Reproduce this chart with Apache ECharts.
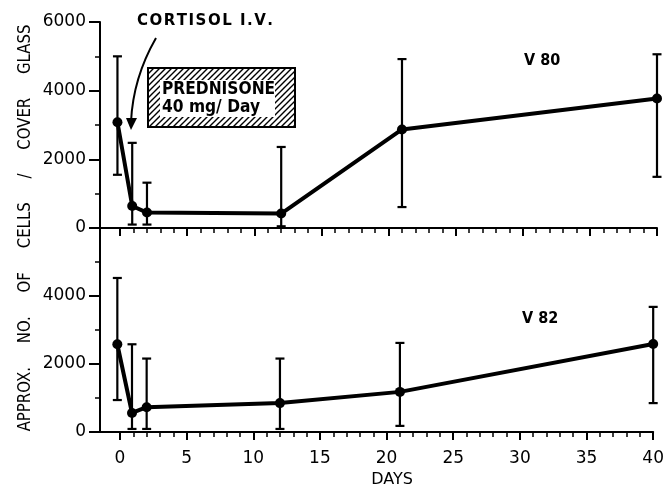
<!DOCTYPE html>
<html><head><meta charset="utf-8">
<script src="https://cdn.jsdelivr.net/npm/echarts@6/dist/echarts.min.js"></script>
<style>html,body{margin:0;padding:0;background:#fff}#c{width:667px;height:487px}</style>
</head><body><div id="c"></div>
<script>
const days = [-0.2, 0.9, 2, 12, 21, 40];
const v80Mean = [3080, 640, 450, 420, 2870, 3770];
const v80Low  = [1550, 100, 100, 50, 610, 1490];
const v80High = [5000, 2480, 1320, 2360, 4920, 5060];
const v82Mean = [2580, 560, 730, 850, 1180, 2590];
const v82Low  = [940, 90, 90, 90, 180, 850];
const v82High = [4530, 2580, 2160, 2160, 2620, 3680];
const xMajorTicks = [0, 5, 10, 15, 20, 25, 30, 35, 40];
const xMinorTicks = [1,2,3,4,6,7,8,9,11,12,13,14,16,17,18,19,21,22,23,24,26,27,28,29,31,32,33,34,36,37,38,39];
const yLabelTop = ['0','2000','4000','6000'];
const yLabelBottom = ['0','2000','4000'];

const FONT = 'DejaVu Sans';
const chart = echarts.init(document.getElementById('c'), null, {renderer:'canvas'});

const hatch = document.createElement('canvas');
hatch.width = 6; hatch.height = 6;
(function(){const g = hatch.getContext('2d'); g.fillStyle='#fff'; g.fillRect(0,0,6,6);
 g.strokeStyle='#000'; g.lineWidth=1.4; g.beginPath();
 g.moveTo(0,6); g.lineTo(6,0); g.moveTo(-1,1); g.lineTo(1,-1); g.moveTo(5,7); g.lineTo(7,5); g.stroke();})();

function errItem(params, api){
  const x = api.value(0), lo = api.value(1), hi = api.value(2);
  const a = api.coord([x, lo]), b = api.coord([x, hi]);
  const w = 4.5, st = {stroke:'#000', lineWidth:2.2};
  return {type:'group', children:[
    {type:'line', shape:{x1:a[0],y1:a[1],x2:b[0],y2:b[1]}, style:st},
    {type:'line', shape:{x1:a[0]-w,y1:a[1],x2:a[0]+w,y2:a[1]}, style:st},
    {type:'line', shape:{x1:b[0]-w,y1:b[1],x2:b[0]+w,y2:b[1]}, style:st}
  ]};
}

const axLine = {lineStyle:{color:'#000', width:2}};
function xMain(gi, showLabel){
  return {type:'value', gridIndex:gi, min:-1.5, max:40, splitLine:{show:false},
    axisLine:Object.assign({onZero:false}, axLine),
    axisTick:{show:true, customValues:xMajorTicks, length:8, lineStyle:{color:'#000', width:2}},
    axisLabel:{show:showLabel, customValues:xMajorTicks, color:'#000', fontFamily:FONT, fontSize:17, margin:18}};
}
function xMinor(gi){
  return {type:'value', gridIndex:gi, min:-1.5, max:40, position:'bottom', splitLine:{show:false},
    axisLine:{show:false, onZero:false},
    axisTick:{show:true, customValues:xMinorTicks, length:5, lineStyle:{color:'#000', width:1.5}},
    axisLabel:{show:false}};
}
function yAx(gi, labels){
  return {type:'value', gridIndex:gi, min:0, max:6000, interval:2000, splitLine:{show:false},
    axisLine:Object.assign({show:true, onZero:false}, axLine),
    axisTick:{show:true, length:11, lineStyle:{color:'#000', width:2}},
    minorTick:{show:true, splitNumber:2, length:5, lineStyle:{color:'#000', width:1.5}},
    axisLabel:{color:'#000', fontFamily:FONT, fontSize:17, margin:14,
      formatter: v => labels.indexOf(String(v)) >= 0 ? String(v) : ''}};
}

const lineStyle = {color:'#000', width:4};
const txt = (t, x, y, size, sx) => ({type:'text', x:x, y:y, scaleX:sx||1, z:100,
  style:{text:t, fill:'#000', font:'bold '+size+'px "'+FONT+'"', verticalAlign:'middle'}});
const H = '\u200A';

chart.setOption({
  animation:false,
  grid:[{left:100, right:10, top:22, height:206}, {left:100, right:10, top:228, height:204}],
  xAxis:[xMain(0,false), xMain(1,true), xMinor(0), xMinor(1)],
  yAxis:[yAx(0,yLabelTop), yAx(1,yLabelBottom)],
  series:[
    {type:'custom', xAxisIndex:0, yAxisIndex:0, renderItem:errItem,
      data: days.map((d,i)=>[d, v80Low[i], v80High[i]]), z:2},
    {type:'line', xAxisIndex:0, yAxisIndex:0, data: days.map((d,i)=>[d, v80Mean[i]]),
      symbol:'circle', symbolSize:10, itemStyle:{color:'#000'}, lineStyle:lineStyle, z:3},
    {type:'custom', xAxisIndex:1, yAxisIndex:1, renderItem:errItem,
      data: days.map((d,i)=>[d, v82Low[i], v82High[i]]), z:2},
    {type:'line', xAxisIndex:1, yAxisIndex:1, data: days.map((d,i)=>[d, v82Mean[i]]),
      symbol:'circle', symbolSize:10, itemStyle:{color:'#000'}, lineStyle:lineStyle, z:3}
  ],
  graphic:[
    {type:'text', x:25, y:228, rotation:Math.PI/2, scaleX:0.83, z:100,
      style:{text:'APPROX.     NO.     OF     CELLS     /     COVER     GLASS', fill:'#000',
        font:'18px "'+FONT+'"', align:'center', verticalAlign:'middle'}},
    {type:'text', x:392, y:480, z:100,
      style:{text:'DAYS', fill:'#000', font:'16px "'+FONT+'"', align:'center', verticalAlign:'middle'}},
    txt(['C','O','R','T','I','S','O','L',' ','I','.','V','.'].join(H), 137, 21, 15),
    {type:'rect', shape:{x:148, y:68, width:147, height:59},
      style:{fill:{image:hatch, repeat:'repeat'}, stroke:'#000', lineWidth:2}, z:90},
    {type:'rect', shape:{x:160, y:80, width:115, height:37}, style:{fill:'#fff'}, z:91},
    txt('PREDNISONE', 162, 90, 17, 0.91),
    txt('40 mg/ Day', 162, 108, 17, 0.91),
    {type:'bezierCurve', shape:{x1:156, y1:38, x2:131, y2:122, cpx1:133, cpy1:78},
      style:{stroke:'#000', lineWidth:2, fill:null}, z:100},
    {type:'polygon', shape:{points:[[126,118],[137,118],[131,130]]}, style:{fill:'#000'}, z:100},
    txt('Ⅴ 80', 524, 61, 16, 0.9),
    txt('Ⅴ 82', 522, 319, 16, 0.9)
  ]
});
</script></body></html>
